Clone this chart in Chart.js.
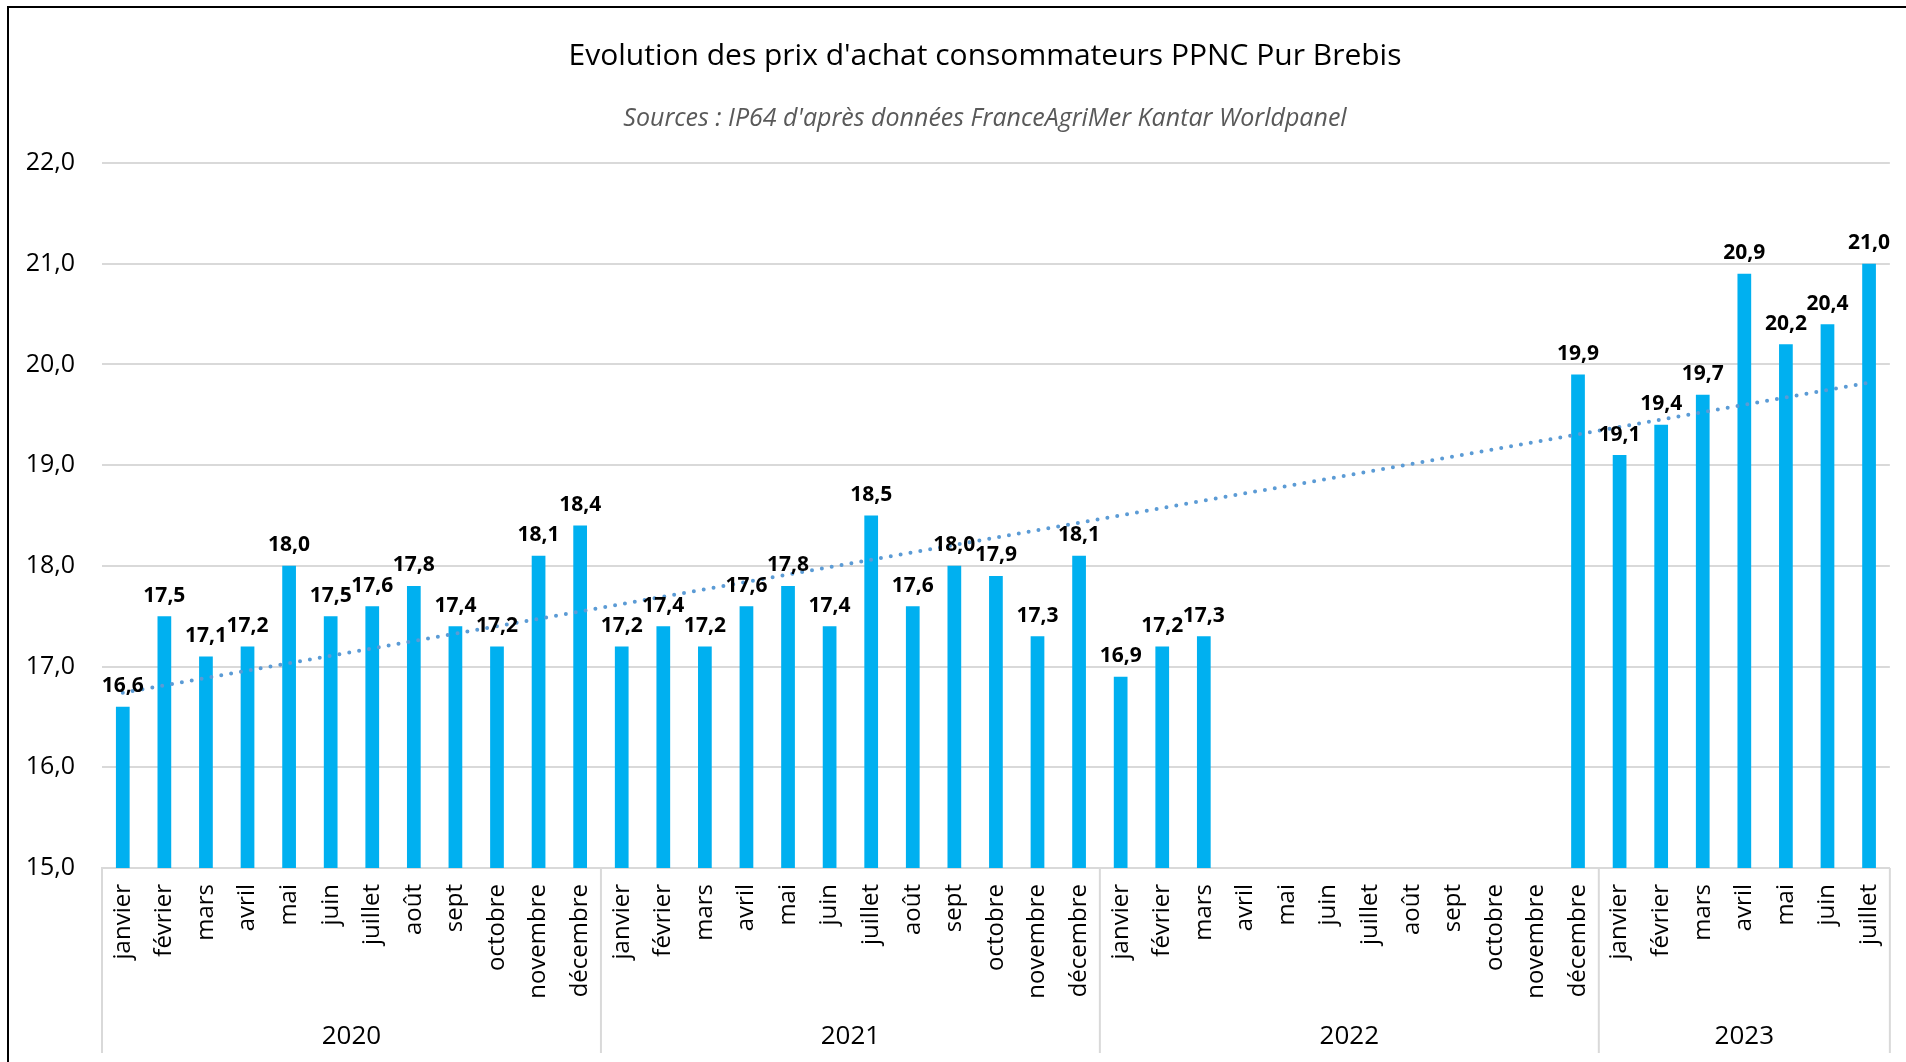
<!DOCTYPE html>
<html lang="fr">
<head>
<meta charset="utf-8">
<title>PPNC Pur Brebis</title>
<script src="https://cdn.jsdelivr.net/npm/chart.js@4/dist/chart.umd.min.js"></script>
<style>
  body { margin: 0; background: #fff; }
  #cadre { position: absolute; left: 0; top: 0; width: 1906px; height: 1062px; }
  #bord { position: absolute; left: 7px; top: 6px; width: 1920px; height: 1100px;
          border-left: 2px solid #000; border-top: 2px solid #000; }
  canvas { position: absolute; left: 0; top: 0; }
</style>
</head>
<body>
<div id="cadre">
  <canvas id="graph" width="1906" height="1062"></canvas>
  <div id="bord"></div>
</div>
<script>
// donnees
const mois = ['janvier', 'février', 'mars', 'avril', 'mai', 'juin', 'juillet', 'août', 'sept', 'octobre', 'novembre', 'décembre'];
const annees = ['2020', '2021', '2022', '2023'];
const moisParAnnee = [12, 12, 12, 7];
const prix2020 = [16.6, 17.5, 17.1, 17.2, 18.0, 17.5, 17.6, 17.8, 17.4, 17.2, 18.1, 18.4];
const prix2021 = [17.2, 17.4, 17.2, 17.6, 17.8, 17.4, 18.5, 17.6, 18.0, 17.9, 17.3, 18.1];
const prix2022 = [16.9, 17.2, 17.3, null, null, null, null, null, null, null, null, 19.9];
const prix2023 = [19.1, 19.4, 19.7, 20.9, 20.2, 20.4, 21.0];
// courbe de tendance (debut et fin)
const tendanceDebut = 16.74;
const tendanceFin = 19.82;
const yMin = 15, yMax = 22, yPas = 1;

const titre = "Evolution des prix d'achat consommateurs PPNC Pur Brebis";
const sousTitre = "Sources : IP64 d'après données FranceAgriMer Kantar Worldpanel";

//labels et series
let labels = [];
annees.forEach(function (a, i) {
  for (let m = 0; m < moisParAnnee[i]; m++) labels.push(mois[m]);
});
const prix = prix2020.concat(prix2021, prix2022, prix2023);
let tendance = labels.map(function () { return null; });
tendance[0] = tendanceDebut;
tendance[tendance.length - 1] = tendanceFin;

const fmt = function (v) { return v.toFixed(1).replace('.', ','); };

//plugin : titres, etiquettes, annees
const decor = {
  id: 'decor',
  afterDraw: function (chart) {
    const c = chart.ctx;
    const x = chart.scales.x;
    const area = chart.chartArea;
    c.save();
    c.textAlign = 'center';
    c.textBaseline = 'middle';
    c.fillStyle = '#000';
    c.font = '30px "Open Sans"';
    c.fillText(titre, 985, 56);
    c.fillStyle = '#595959';
    c.font = 'italic 25px "Open Sans"';
    c.fillText(sousTitre, 985, 119);

    // valeurs au-dessus des barres
    const meta = chart.getDatasetMeta(1);
    c.fillStyle = '#000';
    c.font = 'bold 21px "Open Sans"';
    c.textBaseline = 'bottom';
    meta.data.forEach(function (bar, i) {
      if (prix[i] === null) return;
      c.fillText(fmt(prix[i]), bar.x, bar.y - 10);
    });

    // separateurs et annees
    const pas = x.getPixelForValue(1) - x.getPixelForValue(0);
    c.strokeStyle = '#d9d9d9';
    c.lineWidth = 2;
    c.font = '26px "Open Sans"';
    c.textBaseline = 'middle';
    let debut = 0;
    annees.forEach(function (a, i) {
      const x0 = x.getPixelForValue(debut) - pas / 2;
      const x1 = x.getPixelForValue(debut + moisParAnnee[i] - 1) + pas / 2;
      c.beginPath();
      c.moveTo(x0, area.bottom);
      c.lineTo(x0, 1053);
      c.stroke();
      if (i === annees.length - 1) {
        c.beginPath();
        c.moveTo(x1, area.bottom);
        c.lineTo(x1, 1053);
        c.stroke();
      }
      c.fillText(a, (x0 + x1) / 2, 1037);
      debut += moisParAnnee[i];
    });
    c.restore();
  }
};

const ctx = document.getElementById('graph');
const monGraph = new Chart(ctx, {
  data: {
    labels: labels,
    datasets: [
      {
        type: 'line',
        data: tendance,
        spanGaps: true,
        borderColor: '#5B9BD5',
        borderWidth: 4,
        borderDash: [0, 10],
        borderCapStyle: 'round',
        pointRadius: 0,
        order: 0,
      },
      {
        type: 'bar',
        data: prix,
        backgroundColor: '#00B0F0',
        barPercentage: 0.33,
        categoryPercentage: 1,
        order: 1,
      },
    ],
  },
  options: {
    responsive: false,
    devicePixelRatio: 1,
    animation: false,
    layout: { padding: { top: 163, right: 12, left: 0, bottom: 0 } },
    plugins: {
      legend: { display: false },
      tooltip: { enabled: false },
      title: { display: false },
    },
    scales: {
      x: {
        grid: { display: false },
        border: { color: '#d9d9d9', width: 2 },
        ticks: {
          color: '#000',
          font: { family: 'Open Sans', size: 24 },
          minRotation: 90,
          maxRotation: 90,
          autoSkip: false,
          padding: 8,
        },
        afterFit: function (s) { s.height = 194; },
      },
      y: {
        min: yMin,
        max: yMax,
        grid: { color: '#d9d9d9', lineWidth: 2, drawTicks: false },
        border: { display: false },
        ticks: {
          stepSize: yPas,
          color: '#000',
          font: { family: 'Open Sans', size: 25 },
          padding: 27,
          callback: function (v) { return fmt(v); },
        },
        afterFit: function (s) { s.width = 102; },
      },
    },
  },
  plugins: [decor],
});
</script>
</body>
</html>
